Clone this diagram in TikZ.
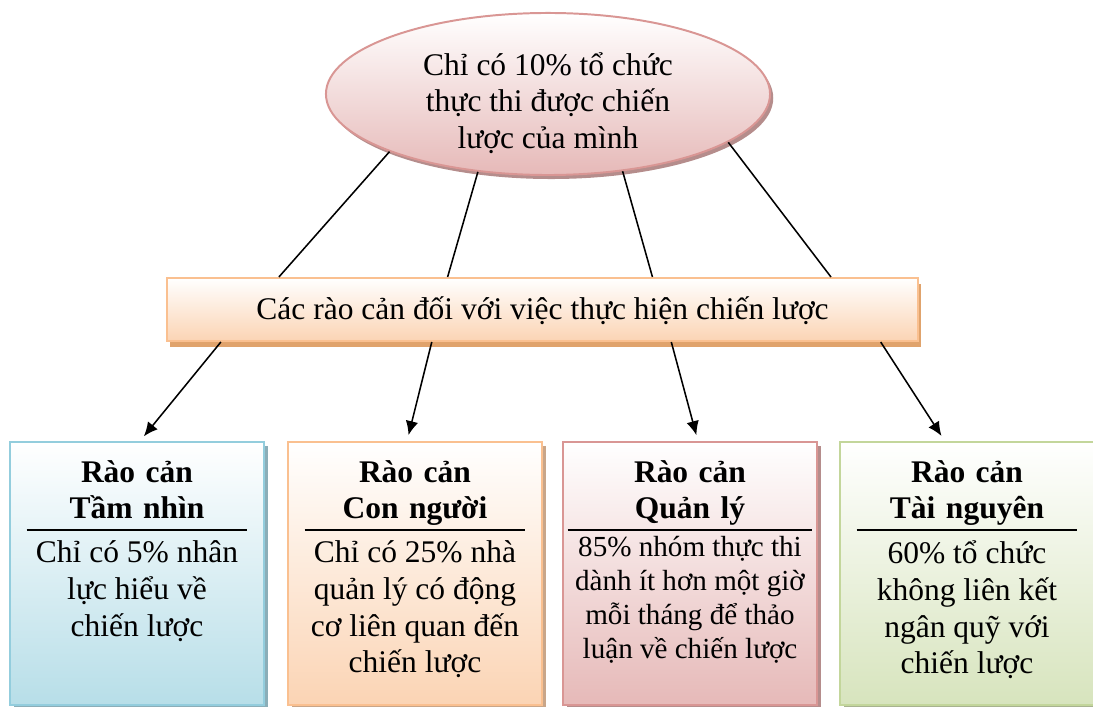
\documentclass[tikz,border=0pt]{standalone}
\usepackage{fontspec}
\setmainfont{Liberation Serif}
\usetikzlibrary{shapes.geometric, arrows.meta, positioning, shadows, calc}

\definecolor{pinkline}{HTML}{D99694}
\definecolor{pinkfill}{HTML}{E6B9B8}
\definecolor{peachline}{HTML}{FAC090}
\definecolor{peachfill}{HTML}{FBD4B4}
\definecolor{blueline}{HTML}{93CDDD}
\definecolor{bluefill}{HTML}{B7DEE8}
\definecolor{greenline}{HTML}{C3D69B}
\definecolor{greenfill}{HTML}{D7E4BD}

\begin{document}
\begin{tikzpicture}[x=0.025cm, y=-0.025cm,
  txt/.style={font=\fontsize{22.4}{26.2}\selectfont, align=center, inner sep=0pt, execute at begin node=\strut, execute at end node=\strut},
  small/.style={txt, font=\fontsize{20.7}{24.1}\selectfont},
  head/.style={txt, font=\fontsize{22.4}{26.2}\selectfont\bfseries, text width=#1},
  ellip/.style={ellipse, minimum width=11.1cm, minimum height=4.05cm, draw=pinkline, line width=1.4pt, top color=white, bottom color=pinkfill, drop shadow={shadow xshift=0.08cm, shadow yshift=-0.1cm, fill=pinkline!60!gray, opacity=1}},
  banner/.style={txt, rectangle, minimum width=18.775cm, minimum height=1.575cm, text height=0.7cm, text depth=0.2cm, draw=peachline, line width=1.4pt, top color=white, bottom color=peachfill, drop shadow={shadow xshift=0.075cm, shadow yshift=-0.14cm, fill=peachline!55!brown, opacity=1}},
  barrier/.style 2 args={rectangle, minimum width=6.35cm, minimum height=6.575cm, draw=#1, line width=1.4pt, top color=white, bottom color=#2, drop shadow={shadow xshift=0.1cm, shadow yshift=-0.1cm, fill=#1!60!gray, opacity=1}},
  link/.style={line width=1.1pt},
  arrow/.style={line width=1.1pt, -{Latex[length=10pt, width=9pt]}, shorten >=0.15cm}]

  \useasboundingbox (0,0) rectangle (1093,707);

  % Nodes
  \node (goal) [ellip] at (548,94) {};
  \node (goaltxt) [txt, below=1.0cm of goal.north] {Chỉ có 10\% tổ chức\\thực thi được chiến\\lược của mình};

  \node (bar) [banner] at (542.5,309.5) {Các rào cản đối với việc thực hiện chiến lược};

  \node (vision) [barrier={blueline}{bluefill}] at (137,573.5) {};
  \node (visionhead) [head=5.5cm, below=0.375cm of vision.north] {Rào cản\\Tầm nhìn};
  \node (visiontxt) [txt, below=0.25cm of visionhead] {Chỉ có 5\% nhân\\lực hiểu về\\chiến lược};

  \node (people) [barrier={peachline}{peachfill}] at (415,573.5) {};
  \node (peoplehead) [head=5.5cm, below=0.375cm of people.north] {Rào cản\\Con người};
  \node (peopletxt) [txt, below=0.25cm of peoplehead] {Chỉ có 25\% nhà\\quản lý có động\\cơ liên quan đến\\chiến lược};

  \node (manage) [barrier={pinkline}{pinkfill}] at (690,573.5) {};
  \node (managehead) [head=6.1cm, below=0.375cm of manage.north] {Rào cản\\Quản lý};
  \node (managetxt) [small, below=0.14cm of managehead] {85\% nhóm thực thi\\dành ít hơn một giờ\\mỗi tháng để thảo\\luận về chiến lược};

  \node (resource) [barrier={greenline}{greenfill}] at (967,573.5) {};
  \node (resourcehead) [head=5.5cm, below=0.375cm of resource.north] {Rào cản\\Tài nguyên};
  \node (resourcetxt) [txt, below=0.25cm of resourcehead] {60\% tổ chức\\không liên kết\\ngân quỹ với\\chiến lược};

  % Rules
  \draw [line width=1.1pt] (visionhead.south west) -- (visionhead.south east);
  \draw [line width=1.1pt] (peoplehead.south west) -- (peoplehead.south east);
  \draw [line width=1.1pt] (managehead.south west) -- (managehead.south east);
  \draw [line width=1.1pt] (resourcehead.south west) -- (resourcehead.south east);

  % Links
  \draw [link] (goal.200) -- ($(bar.north west)!0.150!(bar.north east)$);
  \draw [link] (goal.228) -- ($(bar.north west)!0.374!(bar.north east)$);
  \draw [link] (goal.314) -- ($(bar.north west)!0.646!(bar.north east)$);
  \draw [link] (goal.345) -- ($(bar.north west)!0.883!(bar.north east)$);

  % Arrows
  \draw [arrow] ($(bar.south west)!0.073!(bar.south east)$) -- ($(vision.north west)!0.512!(vision.north east)$);
  \draw [arrow] ($(bar.south west)!0.353!(bar.south east)$) -- ($(people.north west)!0.469!(people.north east)$);
  \draw [arrow] ($(bar.south west)!0.671!(bar.south east)$) -- ($(manage.north west)!0.531!(manage.north east)$);
  \draw [arrow] ($(bar.south west)!0.949!(bar.south east)$) -- ($(resource.north west)!0.413!(resource.north east)$);
\end{tikzpicture}
\end{document}
